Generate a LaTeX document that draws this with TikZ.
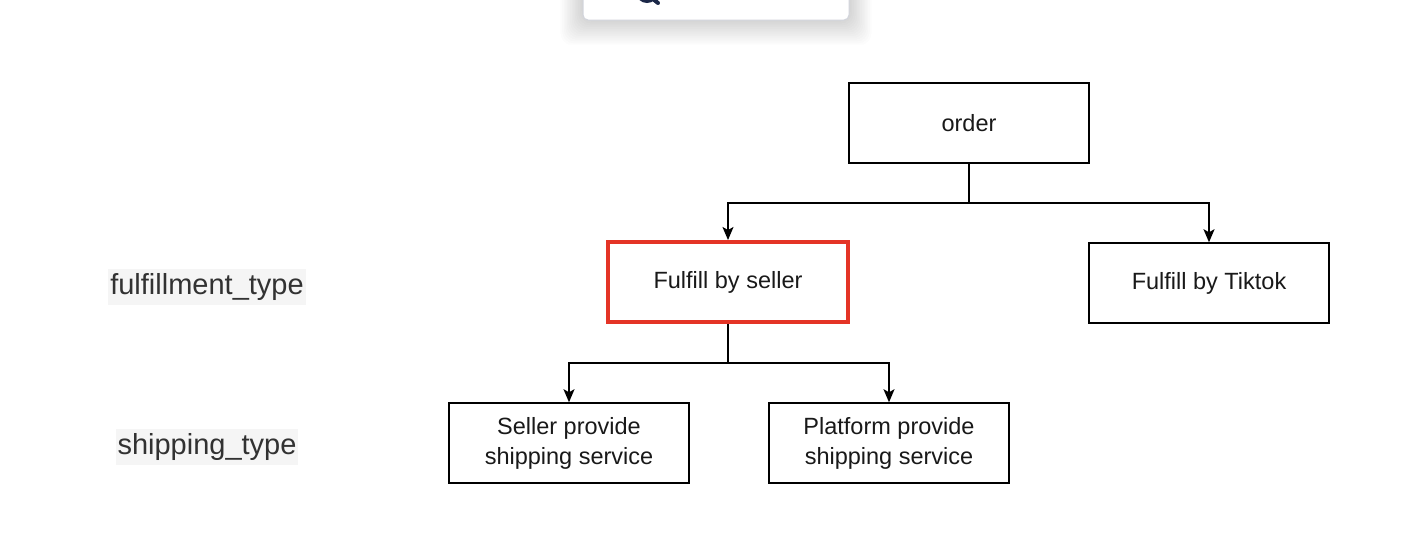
\documentclass[tikz,border=0pt]{standalone}
\usepackage{fontspec}
\setmainfont{Liberation Sans}
\usetikzlibrary{arrows.meta}
\definecolor{redbox}{RGB}{228,52,38}
\definecolor{labelbg}{RGB}{245,245,245}
\definecolor{labeltxt}{RGB}{50,50,50}
\definecolor{popborder}{RGB}{210,212,220}
\definecolor{navy}{RGB}{28,40,72}
\definecolor{shade}{RGB}{60,70,100}
\begin{document}
\begin{tikzpicture}[x=1pt,y=-1pt,
  treebox/.style={draw=black,line width=1.5pt,fill=white,minimum width=240pt,minimum height=80pt,
    inner sep=0pt,align=center,font=\fontsize{23.5}{30}\selectfont,text=black!90},
  hilite/.style={treebox,draw=redbox,line width=4pt},
  sidelabel/.style={fill=labelbg,text=labeltxt,inner xsep=2pt,inner ysep=4pt,font=\fontsize{29}{34}\selectfont},
  link/.style={line width=1.5pt,draw=black},
  arrowlink/.style={link,-{Stealth[length=13pt,width=11pt,inset=3pt]}}]
\useasboundingbox (0,0) rectangle (1408,554);
\fill[white] (0,0) rectangle (1408,554);
% popup fragment at top
\begin{scope}
\clip (0,0) rectangle (1408,554);
\foreach \i in {1,...,14} {
  \fill[shade,opacity=0.007,rounded corners=12pt]
    (583-1.6*\i,-20) rectangle (849+1.6*\i,20+1.8*\i);
}
\path[fill=white,draw=popborder,line width=1pt,rounded corners=5pt]
  (583,-20) rectangle (849,20);
\begin{scope}
\clip (583,0) rectangle (849,20);
\draw[navy,line width=4pt] (647,-8) circle (9);
\draw[navy,line width=4pt,line cap=round] (653,-1) -- (658,3);
\end{scope}
\end{scope}
% side labels
\node[sidelabel] (lblful) at (207,287) {fulfillment\_type};
\node[sidelabel] (lblship) at (207,447) {shipping\_type};
% tree nodes
\node[treebox] (order) at (969,123) {order};
\node[hilite] (fbs) at (728,282) {Fulfill by seller};
\node[treebox] (fbt) at (1209,283) {Fulfill by Tiktok};
\node[treebox] (sps) at (569,443) {Seller provide\\shipping service};
\node[treebox] (pps) at (889,443) {Platform provide\\shipping service};
% connectors
\coordinate (j1) at (969,203);
\coordinate (j2) at (728,363);
\draw[link] (order.south) -- (j1);
\draw[arrowlink] (j1) -| (fbs.north);
\draw[arrowlink] (j1) -| (fbt.north);
\draw[link] (fbs.south) -- (j2);
\draw[arrowlink] (j2) -| (sps.north);
\draw[arrowlink] (j2) -| (pps.north);
\end{tikzpicture}
\end{document}
